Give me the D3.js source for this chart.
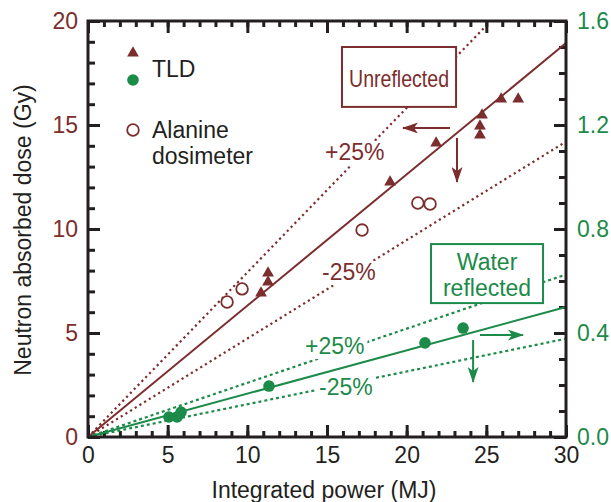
<!DOCTYPE html>
<html>
<head>
<meta charset="utf-8">
<script src="https://cdn.jsdelivr.net/npm/d3@7"></script>
<style>
  body { margin: 0; background: #fff; }
  text { font-family: "Liberation Sans", Arial, Helvetica, sans-serif; }
</style>
</head>
<body>
<svg id="chart" width="611" height="502"></svg>
<script>
const brown = '#7c2d2d'
const green = '#1c8a48'
const ink = '#231f20'

// TLD, unreflected: [MJ, Gy]
const tldUnreflected = [
    [10.86, 6.92], [11.3, 7.45], [11.3, 7.88],
    [18.96, 12.26], [21.85, 14.13],
    [24.6, 14.52], [24.6, 14.95], [24.73, 15.48],
    [25.93, 16.25], [27.0, 16.25]
]
// alanine dosimeter, unreflected: [MJ, Gy]
const alanine = [[8.73, 6.49], [9.67, 7.12], [17.2, 9.95], [20.7, 11.25], [21.47, 11.2]]
// TLD, water reflected: [MJ, right axis value]
const tldWater = [[5.08, 0.077], [5.59, 0.077], [5.84, 0.096], [11.36, 0.196], [21.15, 0.362], [23.54, 0.419]]

// fitted lines and +-25% bands (end points)
const unreflFit = [[0, 0], [30, 18.94]]
const unreflPlus = [[0, 0], [24.9, 19.7]]
const unreflMinus = [[0, 0], [30, 14.2]]
const waterFit = [[0, 0], [30, 0.5]]
const waterPlus = [[0, 0], [30, 0.625]]
const waterMinus = [[0, 0], [30, 0.378]]

const xTicks = [0, 5, 10, 15, 20, 25, 30]
const yTicks = [0, 5, 10, 15, 20]
const y2Ticks = [0, 0.4, 0.8, 1.2, 1.6]

const svg = d3.select('#chart')

const x = d3.scaleLinear([0, 30], [88, 566])
const y = d3.scaleLinear([0, 20], [437, 21])
const y2 = d3.scaleLinear([0, 1.6], [437, 21])

// arrow heads
const defs = svg.append('defs')
;[['arrowBrown', brown], ['arrowGreen', green]].forEach(([id, c]) => {
    defs.append('marker')
        .attr('id', id)
        .attr('viewBox', '0 0 16 11')
        .attr('refX', 15)
        .attr('refY', 5.5)
        .attr('markerWidth', 16)
        .attr('markerHeight', 11)
        .attr('markerUnits', 'userSpaceOnUse')
        .attr('orient', 'auto')
        .append('path')
        .attr('d', 'M0,0 L16,5.5 L0,11 L4,5.5 Z')
        .attr('fill', c)
})

// axes with inward ticks
const fontSize = 23
function styleAxis(g, color) {
    g.select('.domain').remove()
    g.selectAll('line').attr('stroke', ink).attr('stroke-width', 3)
    g.selectAll('text').attr('fill', color).attr('font-size', fontSize)
}

svg.append('g').attr('transform', 'translate(0,437)')
    .call(d3.axisBottom(x).tickValues(d3.range(0, 31)).tickSize(-6).tickFormat(''))
    .call(g => styleAxis(g, ink))
svg.append('g').attr('transform', 'translate(0,437)')
    .call(d3.axisBottom(x).tickValues(xTicks).tickSize(-12).tickPadding(10).tickFormat(d3.format('d')))
    .call(g => styleAxis(g, ink))
svg.append('g').attr('transform', 'translate(0,21)')
    .call(d3.axisTop(x).tickValues(d3.range(0, 31)).tickSize(-6).tickFormat(''))
    .call(g => styleAxis(g, ink))
svg.append('g').attr('transform', 'translate(0,21)')
    .call(d3.axisTop(x).tickValues(xTicks).tickSize(-12).tickFormat(''))
    .call(g => styleAxis(g, ink))

svg.append('g').attr('transform', 'translate(88,0)')
    .call(d3.axisLeft(y).tickValues(d3.range(0, 21)).tickSize(-7).tickFormat(''))
    .call(g => styleAxis(g, brown))
svg.append('g').attr('transform', 'translate(88,0)')
    .call(d3.axisLeft(y).tickValues(yTicks).tickSize(-12).tickPadding(10).tickFormat(d3.format('d')))
    .call(g => styleAxis(g, brown))

svg.append('g').attr('transform', 'translate(566,0)')
    .call(d3.axisRight(y2).tickValues(d3.range(0, 17).map(d => d / 10)).tickSize(-7).tickFormat(''))
    .call(g => styleAxis(g, green))
svg.append('g').attr('transform', 'translate(566,0)')
    .call(d3.axisRight(y2).tickValues(y2Ticks).tickSize(-12).tickPadding(11).tickFormat(d3.format('.1f')))
    .call(g => styleAxis(g, green))

// axis titles
svg.append('text')
    .attr('x', 324).attr('y', 498)
    .attr('text-anchor', 'middle')
    .attr('font-size', fontSize)
    .attr('fill', ink)
    .text('Integrated power (MJ)')
svg.append('text')
    .attr('transform', 'translate(31,230) rotate(-90)')
    .attr('text-anchor', 'middle')
    .attr('font-size', fontSize)
    .attr('fill', ink)
    .text('Neutron absorbed dose (Gy)')

// lines
const lineL = d3.line().x(d => x(d[0])).y(d => y(d[1]))
const lineR = d3.line().x(d => x(d[0])).y(d => y2(d[1]))

const lines = svg.append('g').attr('fill', 'none')
lines.append('path').attr('d', lineL(unreflPlus)).attr('stroke', brown).attr('stroke-width', 2.2).attr('stroke-dasharray', '2.2,3.3')
lines.append('path').attr('d', lineL(unreflMinus)).attr('stroke', brown).attr('stroke-width', 2.2).attr('stroke-dasharray', '2.2,3.3')
lines.append('path').attr('d', lineR(waterPlus)).attr('stroke', green).attr('stroke-width', 2.2).attr('stroke-dasharray', '3,3')
lines.append('path').attr('d', lineR(waterMinus)).attr('stroke', green).attr('stroke-width', 2.2).attr('stroke-dasharray', '3,3')
lines.append('path').attr('d', lineL(unreflFit)).attr('stroke', brown).attr('stroke-width', 2)
lines.append('path').attr('d', lineR(waterFit)).attr('stroke', green).attr('stroke-width', 2)

// percentage labels on white
function label(txt, px, py, color) {
    const g = svg.append('g')
    const bg = g.append('rect').attr('fill', 'white')
    const t = g.append('text')
        .attr('x', px).attr('y', py)
        .attr('font-size', fontSize)
        .attr('fill', color)
        .text(txt)
    const bb = t.node().getBBox()
    bg.attr('x', bb.x - 3).attr('y', bb.y + 2).attr('width', bb.width + 6).attr('height', bb.height - 2)
}
label('+25%', x(14.88), y(13.32), brown)
label('-25%', x(14.69), y(7.55), brown)
label('+25%', x(13.62), y2(0.319), green)
label('-25%', x(14.5), y2(0.1615), green)

// boxes
const ub = svg.append('g')
ub.append('rect')
    .attr('x', x(15.94)).attr('y', y(18.75))
    .attr('width', x(23.1) - x(15.94)).attr('height', y(15.87) - y(18.75))
    .attr('fill', 'white').attr('stroke', brown).attr('stroke-width', 2)
ub.append('text')
    .attr('x', (x(15.94) + x(23.1)) / 2).attr('y', 87)
    .attr('text-anchor', 'middle')
    .attr('font-size', 24)
    .attr('textLength', 100).attr('lengthAdjust', 'spacingAndGlyphs')
    .attr('fill', brown)
    .text('Unreflected')

const wb = svg.append('g')
wb.append('rect')
    .attr('x', x(21.53)).attr('y', y2(0.742))
    .attr('width', x(28.56) - x(21.53)).attr('height', y2(0.515) - y2(0.742))
    .attr('fill', 'white').attr('stroke', green).attr('stroke-width', 2)
wb.selectAll('text')
    .data(['Water', 'reflected'])
    .enter()
    .append('text')
    .attr('x', (x(21.53) + x(28.56)) / 2)
    .attr('y', (d, i) => 270 + i * 26)
    .attr('text-anchor', 'middle')
    .attr('font-size', fontSize)
    .attr('fill', green)
    .text(d => d)

// arrows
function arrow(x1, y1, x2, y2v, color, id) {
    svg.append('line')
        .attr('x1', x1).attr('y1', y1).attr('x2', x2).attr('y2', y2v)
        .attr('stroke', color).attr('stroke-width', 2)
        .attr('marker-end', `url(#${id})`)
}
arrow(x(22.72), y(14.86), x(19.77), y(14.86), brown, 'arrowBrown')
arrow(x(23.16), y(14.38), x(23.16), y(12.26), brown, 'arrowBrown')
arrow(x(24.6), y2(0.392), x(27.3), y2(0.392), green, 'arrowGreen')
arrow(x(24.17), y2(0.373), x(24.17), y2(0.212), green, 'arrowGreen')

// points
const tri = d3.symbol().type(d3.symbolTriangle).size(60)
svg.append('g').selectAll('path')
    .data(tldUnreflected)
    .enter()
    .append('path')
    .attr('d', tri)
    .attr('transform', d => `translate(${x(d[0])},${y(d[1])})`)
    .attr('fill', brown)

svg.append('g').selectAll('circle')
    .data(alanine)
    .enter()
    .append('circle')
    .attr('cx', d => x(d[0])).attr('cy', d => y(d[1]))
    .attr('r', 5.8)
    .attr('fill', 'white')
    .attr('stroke', brown)
    .attr('stroke-width', 1.8)

svg.append('g').selectAll('circle')
    .data(tldWater)
    .enter()
    .append('circle')
    .attr('cx', d => x(d[0])).attr('cy', d => y2(d[1]))
    .attr('r', 5.8)
    .attr('fill', green)

// legend
const lg = svg.append('g')
lg.append('path').attr('d', tri).attr('transform', 'translate(133,53)').attr('fill', brown)
lg.append('circle').attr('cx', 133).attr('cy', 80).attr('r', 5.8).attr('fill', green)
lg.append('circle').attr('cx', 133).attr('cy', 130).attr('r', 5.8).attr('fill', 'white').attr('stroke', brown).attr('stroke-width', 1.8)
lg.selectAll('text')
    .data([['TLD', 77], ['Alanine', 138], ['dosimeter', 164]])
    .enter()
    .append('text')
    .attr('x', 152).attr('y', d => d[1])
    .attr('font-size', fontSize)
    .attr('fill', ink)
    .text(d => d[0])

// frame
svg.append('rect')
    .attr('x', 88).attr('y', 21)
    .attr('width', 566 - 88).attr('height', 437 - 21)
    .attr('fill', 'none')
    .attr('stroke', ink)
    .attr('stroke-width', 3)
</script>
</body>
</html>
